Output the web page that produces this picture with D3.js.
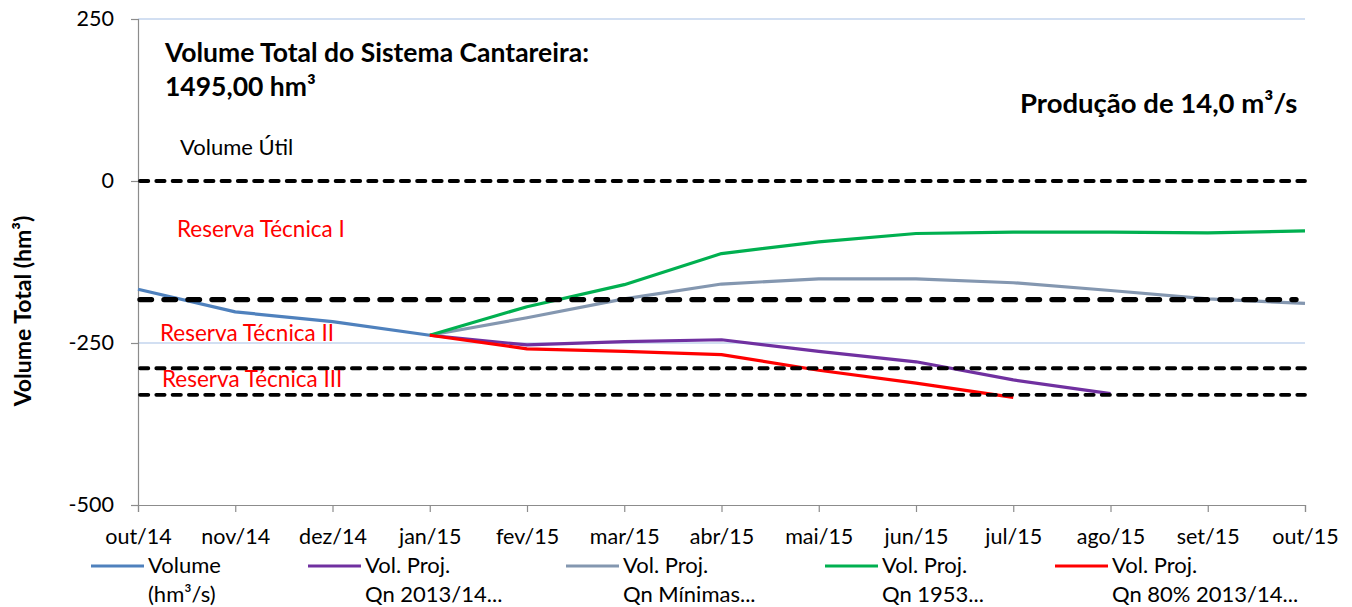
<!DOCTYPE html>
<html>
<head>
<meta charset="utf-8">
<script src="https://cdn.jsdelivr.net/npm/d3@7"></script>
<style>
  body { margin: 0; background: #fff; }
  svg { display: block; font-family: Lato, "Open Sans", sans-serif; }
</style>
</head>
<body>
<svg id="chart" width="1352" height="607"></svg>
<script>
// ---- data ----
const categories = ["out/14","nov/14","dez/14","jan/15","fev/15","mar/15","abr/15","mai/15","jun/15","jul/15","ago/15","set/15","out/15"];
const volume      = [-167, -202, -217, -238, null, null, null, null, null, null, null, null, null];
const projQn2013  = [null, null, null, -238, -253, -248, -245, -263, -279, -307, -328, null, null];
const projMinimas = [null, null, null, -238, -211, -182, -159, -151, -151, -157, -169, -182, -189];
const proj1953    = [null, null, null, -238, -194, -160, -112, -94, -81, -79, -79, -80, -77];
const projQn80    = [null, null, null, -238, -259, -263, -268, -292, -312, -334, null, null, null];
const yTicks = [250, 0, -250, -500];
const refLevels = [0, -183, -289, -330];

const seriesNames = [
  ["Volume", "(hm³/s)"],
  ["Vol. Proj.", "Qn 2013/14..."],
  ["Vol. Proj.", "Qn Mínimas..."],
  ["Vol. Proj.", "Qn 1953..."],
  ["Vol. Proj.", "Qn 80% 2013/14..."]
];
const seriesData = [volume, projQn2013, projMinimas, proj1953, projQn80];
const seriesColors = ["#4f81bd", "#7030a0", "#8497b0", "#00b050", "#ff0000"];

// ---- layout ----
const svg = d3.select("#chart");
const x = d3.scalePoint().domain(categories).range([138, 1305]);
const y = d3.scaleLinear().domain([-500, 250]).range([505, 19]);

// gridlines
svg.append("g").selectAll("line").data([250, -250]).join("line")
  .attr("x1", 138).attr("x2", 1305)
  .attr("y1", d => y(d)).attr("y2", d => y(d))
  .attr("stroke", "#c3d5ee").attr("stroke-width", 1.3);

// axes
const yAxis = d3.axisLeft(y).tickValues(yTicks).tickSize(7).tickPadding(17).tickFormat(d3.format("d"));
const gy = svg.append("g").attr("transform", "translate(138,0)").call(yAxis);
gy.select(".domain").attr("stroke", "#8c8c8c").attr("stroke-width", 1.2);
gy.selectAll(".tick line").attr("stroke", "#8c8c8c").attr("stroke-width", 1.2);
gy.selectAll(".tick text").attr("font-size", 21.5).attr("fill", "#000").attr("font-family", "Lato")
  .text(d => d < 0 ? "-" + Math.abs(d) : d);

const xAxis = d3.axisBottom(x).tickSize(7).tickPadding(17);
const gx = svg.append("g").attr("transform", "translate(0,505)").call(xAxis);
gx.select(".domain").attr("stroke", "#8c8c8c").attr("stroke-width", 1.2);
gx.selectAll(".tick line").attr("stroke", "#8c8c8c").attr("stroke-width", 1.2);
gx.selectAll(".tick text").attr("font-size", 21.5).attr("fill", "#000").attr("font-family", "Lato");

// data lines
const line = d3.line().defined(d => d[1] !== null).x(d => x(d[0])).y(d => y(d[1]));
seriesData.forEach((s, i) => {
  svg.append("path")
    .datum(categories.map((c, j) => [c, s[j]]))
    .attr("d", line)
    .attr("fill", "none")
    .attr("stroke", seriesColors[i])
    .attr("stroke-width", 3.2)
    .attr("stroke-linejoin", "round");
});

// reference dashed levels
refLevels.forEach((v, i) => {
  const thick = i === 1;
  svg.append("line")
    .attr("x1", 140).attr("x2", thick ? 1296 : 1305)
    .attr("y1", y(v)).attr("y2", y(v))
    .attr("stroke", "#000")
    .attr("stroke-width", thick ? 5.4 : 3.8)
    .attr("stroke-linecap", "round")
    .attr("stroke-dasharray", thick ? "11.5 12.5" : "8.3 8");
});

// annotations
const ann = svg.append("g").attr("font-family", "Lato");
ann.append("text").attr("x", 165).attr("y", 62).attr("font-weight", "bold").attr("font-size", 26.5).text("Volume Total do Sistema Cantareira:");
ann.append("text").attr("x", 165).attr("y", 96).attr("font-weight", "bold").attr("font-size", 26.5).text("1495,00 hm³");
ann.append("text").attr("x", 1020).attr("y", 113).attr("font-weight", "bold").attr("font-size", 27.5).text("Produção de 14,0 m³/s");
ann.append("text").attr("x", 180).attr("y", 155).attr("font-size", 22).text("Volume Útil");
ann.append("text").attr("x", 177).attr("y", 237).attr("font-size", 22.5).attr("fill", "#ff0000").text("Reserva Técnica I");
ann.append("text").attr("x", 160).attr("y", 341).attr("font-size", 22.5).attr("fill", "#ff0000").text("Reserva Técnica II");
ann.append("text").attr("x", 162).attr("y", 387).attr("font-size", 22.5).attr("fill", "#ff0000").text("Reserva Técnica III");

// y axis title
svg.append("text")
  .attr("transform", "translate(31,311) rotate(-90)")
  .attr("text-anchor", "middle")
  .attr("font-weight", "bold").attr("font-size", 23).attr("font-family", "Lato")
  .text("Volume Total (hm³)");

// legend
const legendX = [91, 308, 566, 825, 1055];
const lg = svg.append("g").attr("font-family", "Lato").attr("font-size", 22);
seriesNames.forEach((nm, i) => {
  const g = lg.append("g").attr("transform", `translate(${legendX[i]},0)`);
  g.append("line").attr("x1", 0).attr("x2", 53).attr("y1", 566).attr("y2", 566)
    .attr("stroke", seriesColors[i]).attr("stroke-width", 3.2);
  g.append("text").attr("x", 57).attr("y", 573).text(nm[0]);
  g.append("text").attr("x", 57).attr("y", 602).text(nm[1]);
});
</script>
</body>
</html>
